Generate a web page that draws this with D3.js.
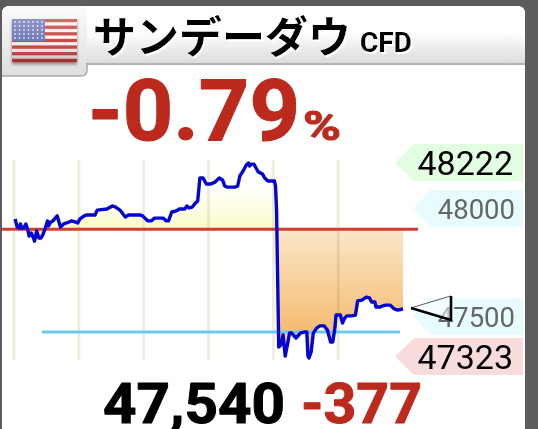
<!DOCTYPE html>
<html><head><meta charset="utf-8">
<script src="https://cdn.jsdelivr.net/npm/d3@7"></script>
<style>html,body{margin:0;padding:0;background:#5c5c5c;overflow:hidden}svg{display:block}
.num{font-family:Roboto,sans-serif}</style></head><body>
<svg id="c" width="538" height="429"></svg>
<script>
const title = "サンデーダウ";
const titleSuffix = "CFD";
const changePct = "-0.79";
const lastPrice = "47,540";
const changeAbs = "-377";
const prevClose = 47917;
const lowRef = 47443;
const current = 47540;
const yDomain = [47323, 48222];
const gridMinutes = [0, 60, 120, 180, 240, 300];
const minutes = [1,3,5,6,7,9,11,13,14,16,18,19,21,23,25,27,29,31,32,34,36,40,43,46,51,53,57,59,61,65,67,75,77,86,91,94,98,103,106,117,119,124,127,130,138,141,143,146,150,153,158,160,162,165,168,170,171,172,175,178,182,186,190,193,195,197,205,207,209,212,215,217,218,220,222,224,226,230,232,235,241,242,243,244,245,247,249,251,253,255,257,261,265,269,271,272,273,275,277,280,283,287,290,292,293,295,297,298,302,304,306,308,312,316,318,322,326,329,331,334,335,336,339,341,344,348,352,355,360];
const prices = [47964,47927,47922,47941,47922,47922,47941,47909,47885,47899,47876,47862,47909,47876,47876,47895,47922,47955,47932,47950,47955,47978,47927,47941,47950,47955,47950,47945,47964,47978,47982,47982,48005,48010,48024,48019,48005,47973,47982,47982,47978,47955,47955,47968,47968,47955,47955,47996,48001,48010,48010,48024,48015,48019,48038,48047,48098,48153,48153,48125,48125,48134,48153,48144,48116,48111,48111,48116,48162,48185,48213,48222,48208,48217,48217,48199,48181,48171,48153,48139,48139,48116,48005,47683,47374,47383,47429,47332,47383,47438,47438,47415,47438,47443,47443,47332,47323,47351,47438,47461,47471,47471,47452,47415,47397,47397,47461,47521,47521,47484,47507,47517,47517,47521,47586,47590,47604,47600,47581,47581,47558,47558,47558,47563,47567,47567,47549,47544,47549];
const priceTags = [
  {text:"48222", kind:"high"},
  {text:"48000", kind:"tick"},
  {text:"47500", kind:"tick"},
  {text:"47323", kind:"low"}
];
const flagStripes = d3.range(13);
const flagStars = d3.range(5);

const svg = d3.select("#c");
const x = d3.scaleLinear().domain([0,360]).range([14,403]);
const y = d3.scaleLinear().domain(yDomain).range([358,163]);
const defs = svg.append("defs");
function grad(id,stops,x1,y1,x2,y2){
  const g=defs.append("linearGradient").attr("id",id).attr("gradientUnits","userSpaceOnUse")
    .attr("x1",x1).attr("y1",y1).attr("x2",x2).attr("y2",y2);
  stops.forEach(s=>g.append("stop").attr("offset",s[0]).attr("stop-color",s[1]));
}
grad("head",[[0,"#ffffff"],[.45,"#ffffff"],[1,"#dcdcdc"]],0,6,0,63);
grad("tab",[[0,"#fbfbfb"],[1,"#dedede"]],0,6,0,76);
grad("fill",[[0,"#ffffff"],[.12,"#ffffff"],[.338,"#fbfbc9"],[.338,"#fbe7c9"],[.87,"#f4bb72"],[.875,"#f6c49a"],[1,"#f9d4c4"]],0,163,0,358);
const bev=defs.append("linearGradient").attr("id","gloss").attr("x1",0).attr("y1",0).attr("x2",0).attr("y2",1);
[[0,"#fff",.25],[.5,"#fff",.05],[1,"#000",.22]].forEach(s=>bev.append("stop").attr("offset",s[0]).attr("stop-color",s[1]).attr("stop-opacity",s[2]));
const sh=defs.append("filter").attr("id","soft").attr("x","-10%").attr("y","-10%").attr("width","120%").attr("height","125%");
sh.append("feDropShadow").attr("dx",0).attr("dy",2).attr("stdDeviation",1.5).attr("flood-color","#000").attr("flood-opacity",.4);
const wh=defs.append("filter").attr("id","whiteEdge").attr("x","-5%").attr("y","-10%").attr("width","110%").attr("height","125%");
wh.append("feDropShadow").attr("dx",1.5).attr("dy",2).attr("stdDeviation",0.3).attr("flood-color","#fff").attr("flood-opacity",1);

// card
svg.append("path").attr("d","M2,429V14Q2,6 10,6H517Q525,6 525,14V429Z").attr("fill","#fff");
// header
svg.append("path").attr("d","M2,63V14Q2,6 10,6H517Q525,6 525,14V63Z").attr("fill","url(#head)");
svg.append("rect").attr("x",2).attr("y",63).attr("width",523).attr("height",2).attr("fill","#b4b4b4");
// flag tab
svg.append("path").attr("d","M2,14Q2,6 10,6H87V70Q87,76 81,76H2Z").attr("fill","url(#tab)");
svg.append("path").attr("d","M2,76H81Q87,76 87,70V63").attr("fill","none").attr("stroke","#a8a8a8").attr("stroke-width",1.5);
// flag
const flagX=d3.scaleLinear().domain([0,1]).range([12,77]);
const flagY=d3.scaleBand().domain(flagStripes).range([19,62]);
const flag=svg.append("g").attr("filter","url(#soft)");
flag.selectAll(".st").data(flagStripes).join("rect").attr("x",flagX(0)).attr("width",flagX(1)-flagX(0))
  .attr("y",d=>flagY(d)).attr("height",flagY.bandwidth()+.3).attr("fill",d=>d%2?"#fbeeee":"#c5403c");
flag.append("rect").attr("x",12).attr("y",19).attr("width",33).attr("height",22).attr("fill","#6a72b6");
flagStars.forEach(r=>d3.range(7).forEach(c=>flag.append("circle").attr("cx",15+c*4.5).attr("cy",22+r*4).attr("r",.9).attr("fill","#dfe2f5")));
flag.append("rect").attr("x",12).attr("y",19).attr("width",65).attr("height",43).attr("rx",2).attr("fill","url(#gloss)");
// title
svg.append("text").attr("x",93).attr("y",53).attr("font-family","'Noto Sans CJK JP'").attr("font-weight",700).attr("font-size",43).attr("fill","#000").attr("filter","url(#whiteEdge)").text(title);
svg.append("text").attr("x",360).attr("y",52).attr("font-family","Roboto").attr("font-weight",700).attr("font-size",27).attr("fill","#000").attr("filter","url(#whiteEdge)").attr("textLength",52).attr("lengthAdjust","spacingAndGlyphs").text(titleSuffix);
function big(tx,ty,fs,len,col,str){
  svg.append("text").attr("class","num").attr("x",tx).attr("y",ty).attr("font-weight",700).attr("font-size",fs).attr("fill",col)
   .attr("stroke",col).attr("stroke-width",1).attr("stroke-linejoin","round")
   .attr("textLength",len).attr("lengthAdjust","spacingAndGlyphs").text(str);
}
big(88,140,85,212,"#bc2a1e",changePct);
big(303,140,41,38,"#bc2a1e","%");
// grid
svg.selectAll(".grid").data(gridMinutes).join("line").attr("x1",d=>x(d)).attr("x2",d=>x(d)).attr("y1",160).attr("y2",360)
  .attr("stroke","#eeeee0").attr("stroke-width",3);
// area
const area=d3.area().x((d,i)=>x(minutes[i])).y0(y(prevClose)).y1(d=>y(d)).curve(d3.curveLinear);
svg.append("path").datum(prices).attr("d",area).attr("fill","url(#fill)").style("mix-blend-mode","multiply");
// right-hand tags
const tagGeom={high:{tip:395,body:414,fs:34,col:"#000",bg:"#e2fde2"},low:{tip:395,body:414,fs:34,col:"#000",bg:"#f8dcdc"},tick:{tip:413,body:431,fs:27.5,col:"#666",bg:"#e8fcff"}};
const tagY=[144,190,298,338], tagH=37;
priceTags.forEach((t,i)=>{
  const g=tagGeom[t.kind], top=tagY[i], r=523;
  svg.append("path").attr("d",`M${g.tip},${top+tagH/2}L${g.body},${top}H${r}V${top+tagH}H${g.body}Z`).attr("fill",g.bg);
  svg.append("text").attr("class","num").attr("x",t.kind==="tick"?515:513).attr("y",top+tagH/2+(t.kind==="tick"?10:12)).attr("text-anchor","end").attr("font-size",g.fs).attr("fill",g.col).text(t.text);
});
// reference lines
svg.append("line").attr("x1",2).attr("x2",418).attr("y1",y(prevClose)).attr("y2",y(prevClose)).attr("stroke","#d43c33").attr("stroke-width",3);
svg.append("line").attr("x1",42).attr("x2",400).attr("y1",y(lowRef)).attr("y2",y(lowRef)).attr("stroke","#6ec8ee").attr("stroke-width",3);
// price line
const line=d3.line().x((d,i)=>x(minutes[i])).y(d=>y(d));
svg.append("path").datum(prices).attr("d",line).attr("fill","none").attr("stroke","#0505d2").attr("stroke-width",3.4).attr("stroke-linejoin","round");
// current marker
const my=y(current)-3;
svg.append("path").attr("d",`M411,${my}L451,${my-12}V${my+12}Z`).attr("fill","#fff").attr("fill-opacity",.55);
svg.append("path").attr("d",`M411,${my}L451,${my-12}`).attr("stroke","#333").attr("stroke-width",.8);
svg.append("path").attr("d",`M411,${my}L451,${my+12}V${my-12}`).attr("fill","none").attr("stroke","#000").attr("stroke-width",2.6);
// bottom
big(103,423,56,182,"#000",lastPrice);
big(301,423,56,121,"#bc2a1e",changeAbs);
</script></body></html>
